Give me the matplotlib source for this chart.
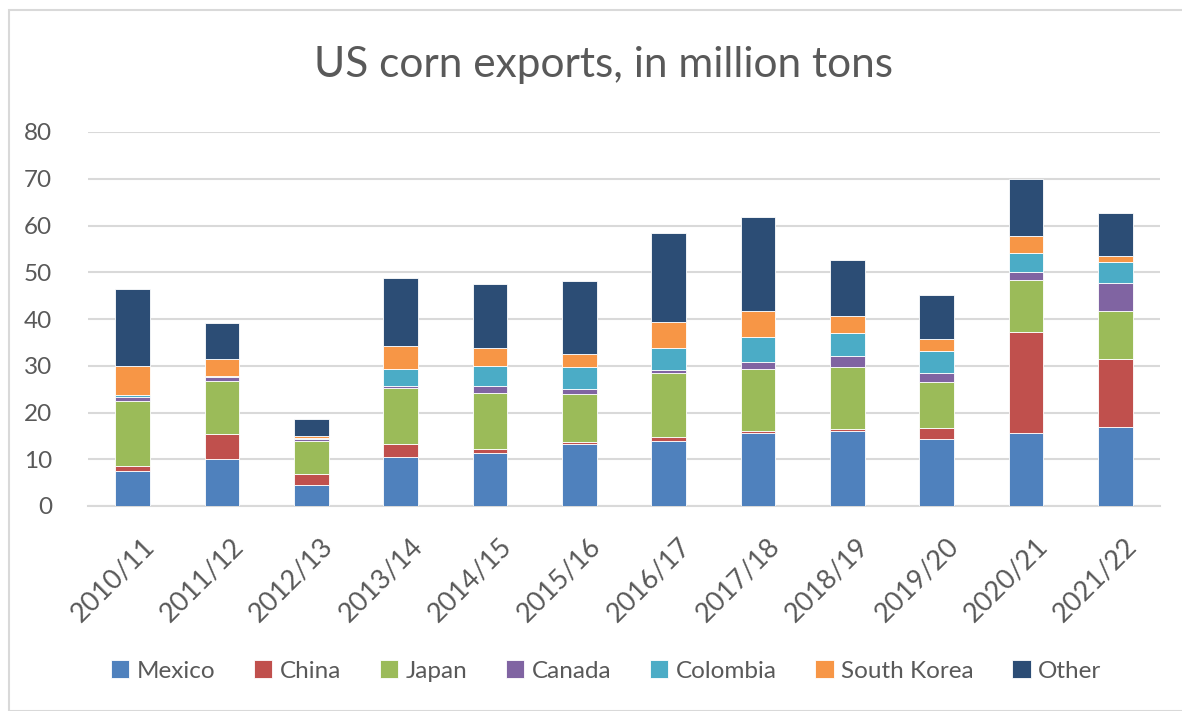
import matplotlib
matplotlib.use("Agg")
import matplotlib.pyplot as plt
from matplotlib.patches import Rectangle
from matplotlib.transforms import ScaledTranslation
import numpy as np

seasons = ["2010/11", "2011/12", "2012/13", "2013/14", "2014/15", "2015/16",
           "2016/17", "2017/18", "2018/19", "2019/20", "2020/21", "2021/22"]
mexico = [7.5, 10.0, 4.55, 10.45, 11.3, 13.2, 13.9, 15.65, 16.1, 14.4, 15.65, 16.9]
china = [1.0, 5.3, 2.4, 2.8, 0.8, 0.45, 0.8, 0.35, 0.3, 2.2, 21.5, 14.5]
japan = [13.9, 11.5, 6.9, 12.0, 12.0, 10.35, 13.7, 13.2, 13.3, 10.0, 11.2, 10.3]
canada = [0.9, 0.8, 0.45, 0.4, 1.5, 1.1, 0.7, 1.7, 2.4, 1.8, 1.6, 6.1]
colombia = [0.45, 0.3, 0.25, 3.6, 4.3, 4.6, 4.8, 5.2, 4.8, 4.8, 4.1, 4.3]
south_korea = [6.15, 3.5, 0.35, 4.9, 4.0, 2.9, 5.5, 5.6, 3.8, 2.6, 3.6, 1.4]
other = [16.6, 7.7, 3.65, 14.7, 13.5, 15.6, 18.9, 20.2, 11.9, 9.4, 12.2, 9.2]

series_names = ["Mexico", "China", "Japan", "Canada", "Colombia", "South Korea", "Other"]
series_values = [mexico, china, japan, canada, colombia, south_korea, other]
colors = ["#4F81BD", "#C0504D", "#9BBB59", "#8064A2", "#4BACC6", "#F79646", "#2C4D75"]

plt.rcParams['font.family'] = ['Lato', 'DejaVu Sans']
txt = "#595959"

fig = plt.figure(figsize=(11.82, 7.11), dpi=100)
ax = fig.add_axes([88/1182, 1-506/711, (1160-88)/1182, (506-132)/711])

x = np.arange(len(seasons))
bottom = np.zeros(len(seasons))
for name, vals, c in zip(series_names, series_values, colors):
    v = np.array(vals)
    ax.bar(x, v, 0.39, bottom=bottom, color=c, label=name,
           edgecolor="white", linewidth=0.6, zorder=3)
    bottom += v

ax.set_xlim(-0.5, len(seasons) - 0.5)
ax.set_ylim(0, 80)
ax.set_yticks(range(0, 81, 10))
ax.yaxis.grid(True, color="#D9D9D9", linewidth=1.5, zorder=0)
ax.set_axisbelow(True)
for s in ["top", "right", "left"]:
    ax.spines[s].set_visible(False)
ax.spines["bottom"].set_color("#D9D9D9")
ax.spines["bottom"].set_linewidth(1.5)
ax.tick_params(axis="y", length=0, colors=txt, labelsize=17.5, pad=26)
ax.tick_params(axis="x", length=0, colors=txt, labelsize=19.5, pad=20)
ax.set_xticks(x)
ax.set_xticklabels(seasons, rotation=45, ha="right", rotation_mode="anchor")
offset = ScaledTranslation(9/100, 0, fig.dpi_scale_trans)
for lab in ax.get_xticklabels():
    lab.set_transform(lab.get_transform() + offset)

fig.text(604/1182, 1-65/711, "US corn exports, in million tons", ha="center", va="center",
         fontsize=30.5, color=txt)

leg = fig.legend(loc="center", bbox_to_anchor=(606/1182, 1-671/711), ncol=7, frameon=False,
                 fontsize=17.5, handlelength=0.75, handleheight=0.75, handletextpad=0.3,
                 columnspacing=1.6, labelcolor=txt)

fig.patches.append(Rectangle((9/1182, 0), 1.0, 1-10/711, transform=fig.transFigure,
                             fill=False, edgecolor="#D9D9D9", linewidth=1.5))

fig.savefig("out.png", dpi=100, facecolor="white")
